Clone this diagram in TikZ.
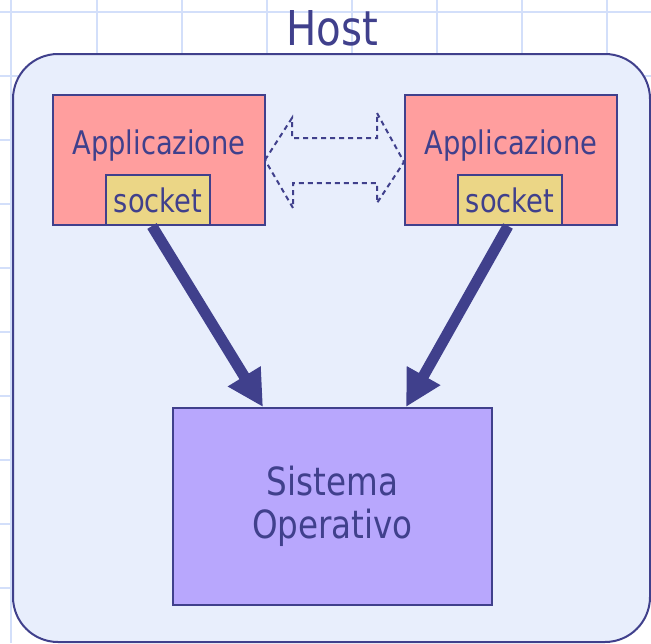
\documentclass[tikz,border=0pt]{standalone}
\usepackage{fontspec}
\setmainfont{DejaVu Sans}[FakeStretch=0.84]
\usetikzlibrary{arrows.meta}

\definecolor{inkblue}{RGB}{64,64,140}
\definecolor{gridblue}{RGB}{211,223,250}
\definecolor{hostfill}{RGB}{232,238,252}
\definecolor{appfill}{RGB}{255,158,158}
\definecolor{sockfill}{RGB}{235,214,134}
\definecolor{osfill}{RGB}{184,167,253}

\begin{document}
\begin{tikzpicture}[x=1pt, y=-1pt,
        box/.style={draw=inkblue, line width=2pt, inner sep=0pt},
        appbox/.style={box, fill=appfill, minimum width=212pt, minimum height=130pt},
        sockbox/.style={box, fill=sockfill, minimum width=104pt, minimum height=50pt,
            text=inkblue, font=\fontsize{32.5}{38}\selectfont},
        label/.style={text=inkblue, font=\fontsize{32.5}{38}\selectfont, anchor=base},
        bigarrow/.style={draw=inkblue, line width=11pt,
            -{Triangle[length=36pt, width=36pt]}}]
        \useasboundingbox (0,0) rectangle (651,643);

        % grid behind everything
        \foreach \gx in {11,97,182,267,352,437,522,607}
            \draw[gridblue, line width=2pt] (\gx,0) -- (\gx,643);
        \foreach \gy in {12,76,140,204,268,332,396,460,524,588}
            \draw[gridblue, line width=2pt] (0,\gy) -- (651,\gy);

        \draw[inkblue, fill=hostfill, line width=2pt, rounded corners=45pt] (13,54) rectangle (650,642);
        \node[text=inkblue, font=\fontsize{48}{54}\selectfont, anchor=base] (host) at (332,45) {Host};

        \node[appbox] at (159,160) (app1) {};
        \node[appbox] at (511,160) (app2) {};
        \node[label] at (159,154) (lbl1) {Applicazione};
        \node[label] at (511,154) (lbl2) {Applicazione};
        \node[sockbox] at (158,200) (sock1) {socket};
        \node[sockbox] at (510,200) (sock2) {socket};

        \node[box, fill=osfill, minimum width=319pt, minimum height=197pt,
            text=inkblue, align=center, font=\fontsize{38.8}{43}\selectfont] at (332.5,506.5) (os) {Sistema\\Operativo};

        % dashed two-way arrow between the applications
        \draw[inkblue, line width=2pt, dash pattern=on 5pt off 4pt]
            (265,160) -- (292,118) -- (292,138) -- (377,138) -- (377,113) -- (404,162)
            -- (377,203) -- (377,183) -- (293,183) -- (293,208) -- cycle;

        \draw[bigarrow] ([xshift=-6pt]sock1.south) -- ([xshift=91pt]os.north west);
        \draw[bigarrow] ([xshift=-2pt]sock2.south) -- ([xshift=-87pt]os.north east);
    \end{tikzpicture}
\end{document}
